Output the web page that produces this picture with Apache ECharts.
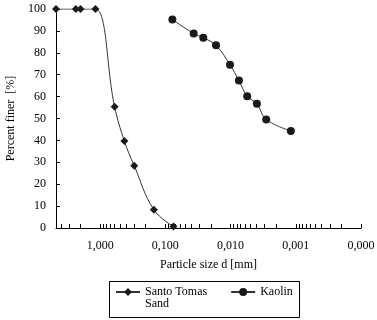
<!DOCTYPE html>
<html>
<head>
<meta charset="utf-8">
<script src="https://cdn.jsdelivr.net/npm/echarts@6/dist/echarts.min.js"></script>
<style>
  html, body { margin: 0; padding: 0; background: #fff; }
  #main { width: 377px; height: 320px; }
</style>
</head>
<body>
<div id="main"></div>
<script>
var chartDom = document.getElementById('main');
var myChart = echarts.init(chartDom, null, { renderer: 'canvas' });

// particle size d [mm] and percent finer [%]
const sandSize = [4.75, 2.36, 2.0, 1.18, 0.6, 0.425, 0.3, 0.15, 0.075];
const sandFiner = [100, 100, 100, 100, 55.4, 39.7, 28.4, 8.3, 0.7];
const kaolinSize = [0.078, 0.0368, 0.0262, 0.0167, 0.0102, 0.00744, 0.00556, 0.00395, 0.00284, 0.00119];
const kaolinFiner = [95.2, 88.8, 86.9, 83.4, 74.5, 67.3, 60.2, 56.7, 49.6, 44.3];
const xLabels = [1, 0.1, 0.01, 0.001, 0.0001];

const font = 'Liberation Serif';

// log ticks: 1..9 in each decade
const xTicks = [];
xLabels.forEach(function (dec) {
    for (let m = 1; m < 10; m++) {
        const v = +(dec * m).toPrecision(3);
        if (v <= 4.75) xTicks.push(v);
    }
});

function pairs(xs, ys) {
    return xs.map(function (x, i) { return [x, ys[i]]; });
}

var option = {
    textStyle: { fontFamily: font },
    grid: { left: 56, right: 16, top: 9, bottom: 92, containLabel: false, outerBoundsMode: 'none' },
    xAxis: {
        type: 'log',
        inverse: true,
        min: 0.0001,
        max: 4.75,
        name: 'Particle size d [mm]',
        nameLocation: 'middle',
        nameGap: 31,
        nameTextStyle: { fontFamily: font, fontSize: 12, color: '#000' },
        axisLine: { lineStyle: { color: '#000', width: 1 } },
        axisTick: { inside: true, length: 4, customValues: xTicks, lineStyle: { color: '#000' } },
        axisLabel: {
            customValues: xLabels,
            margin: 12,
            fontFamily: font,
            fontSize: 12,
            color: '#000',
            formatter: function (v) { return (+v).toFixed(3).replace('.', ','); }
        },
        splitLine: { show: false },
        minorTick: { show: false }
    },
    yAxis: {
        type: 'value',
        min: 0,
        max: 100,
        interval: 10,
        name: 'Percent finer  [%]',
        nameLocation: 'middle',
        nameGap: 37,
        nameTextStyle: { fontFamily: font, fontSize: 12, color: '#000' },
        axisLine: { show: true, lineStyle: { color: '#000', width: 1 } },
        axisTick: { show: true, inside: true, length: 4, lineStyle: { color: '#000' } },
        axisLabel: { margin: 10, fontFamily: font, fontSize: 12, color: '#000' },
        splitLine: { show: false }
    },
    legend: {
        left: 115,
        top: 274,
        padding: 0,
        itemWidth: 24,
        itemHeight: 10,
        itemGap: 23,
        textStyle: { fontFamily: font, fontSize: 12, color: '#000', lineHeight: 12 },
        formatter: function (name) {
            return name === 'Santo Tomas Sand' ? '\nSanto Tomas\nSand' : name;
        },
        data: ['Santo Tomas Sand', 'Kaolin']
    },
    graphic: [{
        type: 'rect',
        left: 107,
        top: 279,
        shape: { width: 190, height: 36 },
        style: { fill: null, stroke: '#000', lineWidth: 1 }
    }],
    series: [
        {
            name: 'Santo Tomas Sand',
            type: 'line',
            smooth: 0.4,
            symbol: 'diamond',
            symbolSize: 8,
            clip: false,
            itemStyle: { color: '#1a1a1a' },
            lineStyle: { color: '#333', width: 1 },
            data: pairs(sandSize, sandFiner)
        },
        {
            name: 'Kaolin',
            type: 'line',
            smooth: 0.4,
            symbol: 'circle',
            symbolSize: 8,
            clip: false,
            itemStyle: { color: '#1a1a1a' },
            lineStyle: { color: '#333', width: 1 },
            data: pairs(kaolinSize, kaolinFiner)
        }
    ]
};
option && myChart.setOption(option);
</script>
</body>
</html>
